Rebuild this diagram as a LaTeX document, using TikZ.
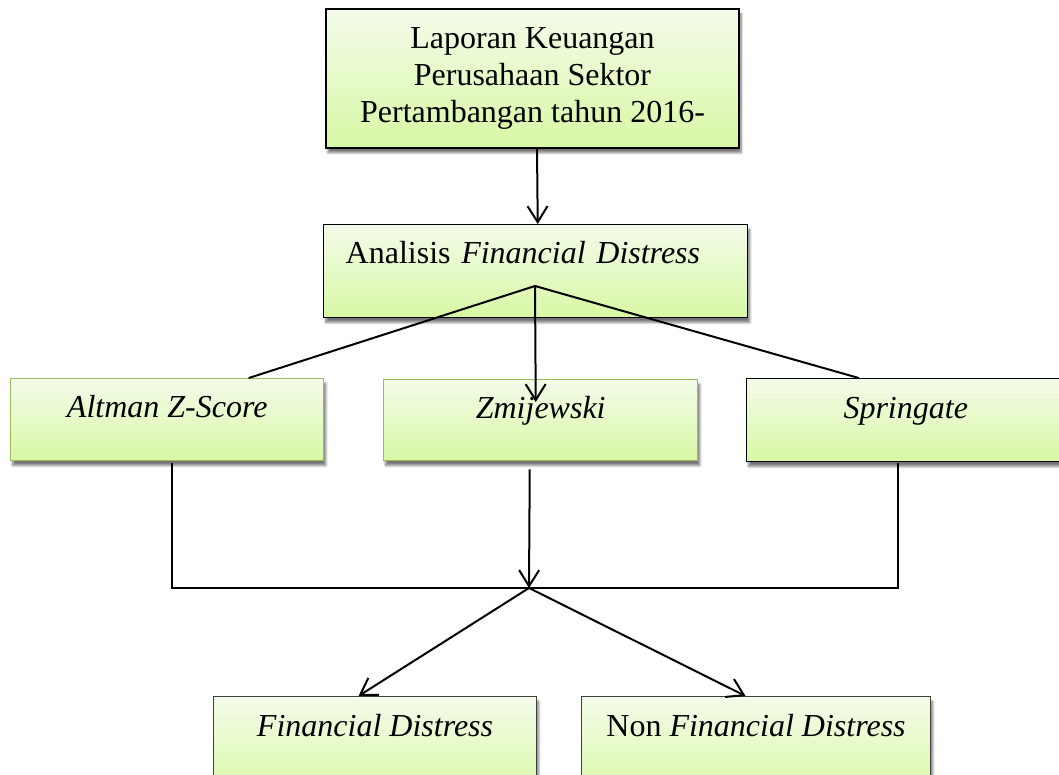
\documentclass[tikz,border=0pt]{standalone}
\usepackage{fontspec}
\setmainfont{Liberation Serif}
\usetikzlibrary{arrows.meta,shadows.blur,calc}
\definecolor{gtop}{HTML}{F4FBEA}
\definecolor{gbot}{HTML}{D8F8A4}
\definecolor{gline}{HTML}{9BBB59}
\begin{document}
\begin{tikzpicture}[x=0.75pt,y=-0.75pt,
  box/.style={draw, line width=1.1pt, top color=gtop, bottom color=gbot, inner sep=0pt,
    anchor=north west, font=\fontsize{24}{28}\selectfont,
    blur shadow={shadow xshift=1.5pt, shadow yshift=-3.5pt, shadow blur steps=8, shadow opacity=55}},
  conn/.style={line width=1.5pt},
  arr/.style={conn, -{Straight Barb[length=12pt,width=15pt]}}]
\useasboundingbox (0,0) rectangle (1059,774);
\clip (0,0) rectangle (1059,774);

\node[box, minimum width=309.75pt, minimum height=104.25pt, align=center, anchor=center] (lap) at (532.5,78.5)
  {Laporan Keuangan\\Perusahaan Sektor\\Pertambangan tahun 2016-};
\node[box, text width=285pt, inner xsep=16.5pt, inner ysep=0pt, align=left, text height=29.25pt, text depth=40.5pt] (ana) at (323,224)
  {Analisis \textit{Financial Distress}};
\node[box, draw=gline, minimum width=234.75pt, text height=29.25pt, text depth=32.25pt] (alt) at (10,378) {\textit{Altman Z-Score}};
\node[box, draw=gline, minimum width=235.5pt, text height=29.25pt, text depth=31.5pt] (zmi) at (383,379) {\textit{Zmijewski}};
\node[box, minimum width=238.5pt, text height=30pt, text depth=32.25pt] (spr) at (746,378) {\textit{Springate}};
\node[box, draw=black!75, line width=0.8pt, minimum width=242.25pt, text height=30pt, text depth=48pt] (fd) at (213,696) {\textit{Financial Distress}};
\node[box, draw=black!75, line width=0.8pt, minimum width=261.75pt, text height=30pt, text depth=48pt] (nfd) at (581,696) {Non \textit{Financial Distress}};

\coordinate (apex) at (535,286);
\coordinate (j) at (529,588);

\draw[arr] ($(lap.south)+(4.5,0)$) -- ($(ana.north)+(2,0)$);
\draw[conn] (apex) -- ($(alt.north)+(81.5,0)$);
\draw[conn] (apex) -- ($(spr.north)+(-47,0)$);
\draw[arr] (apex) -- ($(zmi.north)+(-5,23)$);
\draw[conn] ($(alt.south)+(4.5,2)$) |- (j) -| ($(spr.south)+(-8,1)$);
\draw[arr] ($(zmi.south)+(-11,8)$) -- (j);
\draw[arr] (j) -- ($(fd.north)+(-16.5,0)$);
\draw[arr] (j) -- ($(nfd.north)+(-10.5,0)$);
\end{tikzpicture}
\end{document}
